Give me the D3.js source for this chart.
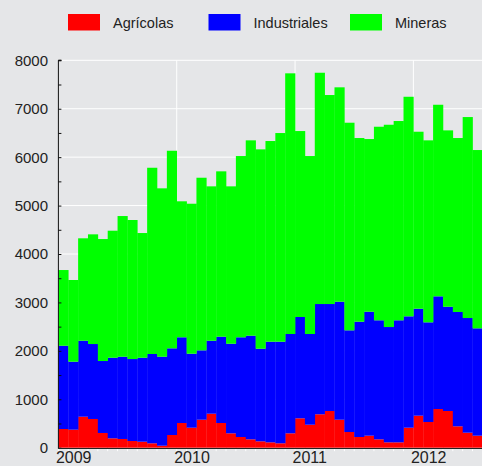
<!DOCTYPE html>
<html>
<head>
<meta charset="utf-8">
<script src="https://cdn.jsdelivr.net/npm/d3@7"></script>
<style>
  body { margin: 0; background: #e5e6e8; }
  text { font-family: "Liberation Sans", Arial, sans-serif; fill: #222; }
</style>
</head>
<body>
<div id="chart"></div>
<script>
// monthly data, Jan 2009 .. Jul 2012
const meses = [];
for (let a = 2009; a <= 2012; a++) {
  for (let m = 1; m <= 12; m++) {
    if (a === 2012 && m > 7) break;
    meses.push(a + "-" + String(m).padStart(2, "0"));
  }
}

const series = ["Agrícolas", "Industriales", "Mineras"];
const colores = ["#ff0000", "#0000ff", "#00ff00"];

const agricolas = [386, 372, 640, 593, 304, 194, 180, 138, 124, 91, 41, 262,
  510, 413, 578, 702, 510, 297, 221, 173, 132, 111, 91, 297,
  607, 475, 690, 758, 578, 324, 221, 248, 173, 111, 111, 413,
  661, 531, 799, 758, 442, 310, 248];
const industriales = [1720, 1404, 1569, 1548, 1486, 1664, 1699, 1693, 1734, 1844, 1838, 1790,
  1770, 1528, 1433, 1507, 1782, 1850, 2059, 2140, 1912, 2078, 2098, 2051,
  2092, 1873, 2277, 2209, 2437, 2100, 2381, 2560, 2458, 2381, 2520, 2300,
  2209, 2058, 2327, 2153, 2360, 2368, 2217];
const mineras = [1563, 1687, 2115, 2265, 2519, 2623, 2905, 2871, 2575, 3846, 3477, 4080,
  2808, 3097, 3564, 3188, 3415, 3250, 3743, 4034, 4117, 4144, 4309, 5383,
  3840, 3675, 4776, 4316, 4427, 4287, 3793, 3566, 3997, 4177, 4115, 4534,
  3655, 3758, 3956, 3642, 3593, 4150, 3682];

const yTicks = [0, 1000, 2000, 3000, 4000, 5000, 6000, 7000, 8000];
const anios = ["2009", "2010", "2011", "2012"];

const width = 482;
const height = 466;
const margin = { top: 60.3, left: 58.4, bottom: 18.3, right: -0.4 };

const datos = meses.map((m, i) => ({
  mes: m,
  "Agrícolas": agricolas[i],
  "Industriales": industriales[i],
  "Mineras": mineras[i]
}));

const svg = d3.select("#chart").append("svg")
  .attr("width", width)
  .attr("height", height);

svg.append("rect")
  .attr("width", width).attr("height", height)
  .attr("fill", "#e5e6e8");

const x = d3.scaleBand()
  .domain(meses)
  .range([margin.left, width - margin.right])
  .padding(0);

const y = d3.scaleLinear()
  .domain([0, 8000])
  .range([height - margin.bottom, margin.top]);

// grid
svg.append("g")
  .selectAll("line")
  .data(yTicks.slice(1))
  .join("line")
  .attr("x1", margin.left).attr("x2", width)
  .attr("y1", d => y(d)).attr("y2", d => y(d))
  .attr("stroke", "#fff").attr("stroke-width", 1);

svg.append("g")
  .selectAll("line")
  .data(anios.slice(1))
  .join("line")
  .attr("x1", d => x(d + "-01")).attr("x2", d => x(d + "-01"))
  .attr("y1", y(8000)).attr("y2", y(0))
  .attr("stroke", "#fff").attr("stroke-width", 1);

// stacked bars
const stack = d3.stack().keys(series)(datos);

svg.append("g")
  .selectAll("g")
  .data(stack)
  .join("g")
  .attr("fill", (d, i) => colores[i])
  .selectAll("rect")
  .data(d => d)
  .join("rect")
  .attr("x", d => x(d.data.mes))
  .attr("y", d => y(d[1]))
  .attr("width", x.bandwidth() + 0.3)
  .attr("height", d => y(d[0]) - y(d[1]));

// y axis
const yAxis = svg.append("g")
  .attr("transform", `translate(${margin.left},0)`)
  .call(d3.axisRight(y).tickValues(d3.range(0, 8001, 500)).tickSize(3).tickFormat(""));
yAxis.select(".domain").attr("stroke", "#111").attr("d", `M0,${y(8000)}H3V${y(8000)}H0V${y(0) + 1}`);
yAxis.selectAll(".tick line").attr("stroke", "#111");

svg.append("g")
  .selectAll("text")
  .data(yTicks)
  .join("text")
  .attr("x", 48)
  .attr("y", d => y(d))
  .attr("dy", "0.36em")
  .attr("text-anchor", "end")
  .style("font-size", "15px")
  .text(d => d);

// x axis
svg.append("line")
  .attr("x1", margin.left).attr("x2", width)
  .attr("y1", y(0) + 0.8).attr("y2", y(0) + 0.8)
  .attr("stroke", "#222").attr("stroke-width", 1.2);

svg.append("g")
  .selectAll("line")
  .data(meses)
  .join("line")
  .attr("x1", d => x(d)).attr("x2", d => x(d))
  .attr("y1", y(0) + 1.5).attr("y2", y(0) + 3.5)
  .attr("stroke", "#fff").attr("stroke-width", 1);

svg.append("g")
  .selectAll("text")
  .data(anios)
  .join("text")
  .attr("x", d => x(d + "-01") - 2.5)
  .attr("y", 463)
  .style("font-size", "16px")
  .text(d => d);

// legend
const legX = [68, 208.5, 350];
const leg = svg.append("g")
  .selectAll("g")
  .data(series)
  .join("g")
  .attr("transform", (d, i) => `translate(${legX[i]},14)`);
leg.append("rect")
  .attr("width", 32).attr("height", 16.5)
  .attr("fill", (d, i) => colores[i]);
leg.append("text")
  .attr("x", 45).attr("y", 13.5)
  .style("font-size", "14.5px")
  .text(d => d);
</script>
</body>
</html>
